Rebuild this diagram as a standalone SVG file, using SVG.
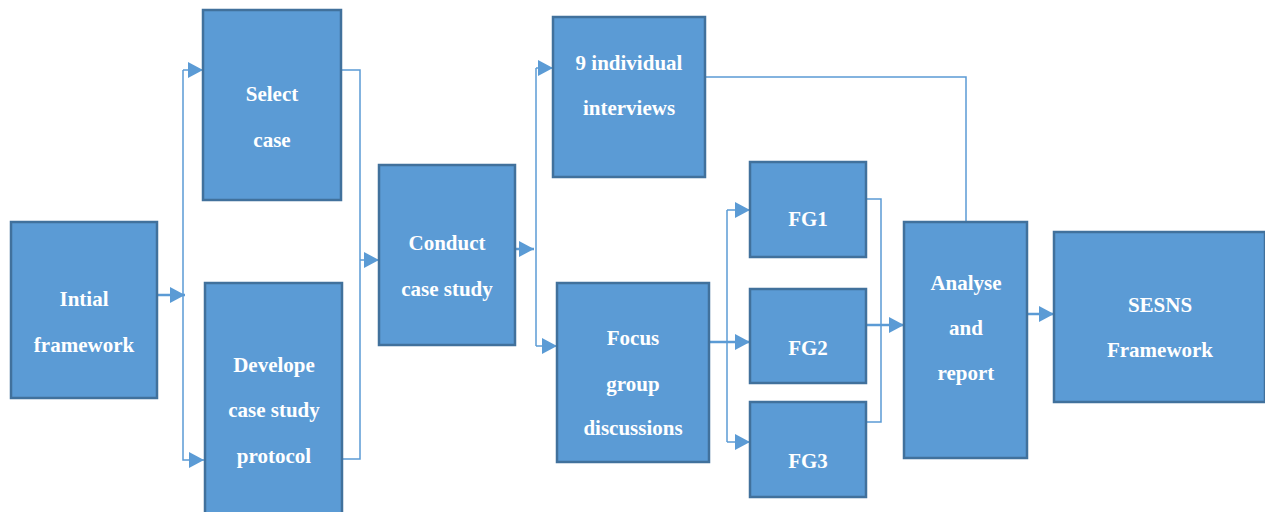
<svg xmlns="http://www.w3.org/2000/svg" width="1265" height="512" viewBox="0 0 1265 512">
<defs>
<style>
.box{fill:#5b9bd5;stroke:#41719c;stroke-width:2.5}
.t{font-family:"Liberation Serif","Times New Roman","DejaVu Serif",serif;font-weight:bold;font-size:21px;fill:#ffffff;text-anchor:middle}
.c{fill:none;stroke:#5b9bd5;stroke-width:1.5}
.s{fill:none;stroke:#5b9bd5;stroke-width:2.5}
</style>
<marker id="ah" markerUnits="userSpaceOnUse" markerWidth="16" markerHeight="16" refX="15" refY="8" orient="auto">
<path d="M0,0 L15,8 L0,16 z" fill="#5b9bd5"/>
</marker>
</defs>
<rect width="1265" height="512" fill="#ffffff"/>
<g id="connectors">
<path class="s" d="M157,295 H185" marker-end="url(#ah)"/>
<path class="c" d="M183,70 V460 H204" marker-end="url(#ah)"/>
<path class="c" d="M183,70 H203" marker-end="url(#ah)"/>
<path class="c" d="M341,70 H360 V459 H343"/>
<path class="c" d="M360,260 H379" marker-end="url(#ah)"/>
<path class="s" d="M515,249 H534" marker-end="url(#ah)"/>
<path class="c" d="M536,68 V346"/>
<path class="c" d="M536,68 H553" marker-end="url(#ah)"/>
<path class="c" d="M536,346 H557" marker-end="url(#ah)"/>
<path class="c" d="M705,77 H966 V222"/>
<path class="s" d="M709,342 H750" marker-end="url(#ah)"/>
<path class="c" d="M727,210 V442"/>
<path class="c" d="M727,210 H750" marker-end="url(#ah)"/>
<path class="c" d="M727,442 H750" marker-end="url(#ah)"/>
<path class="c" d="M867,199 H881 V422 H867"/>
<path class="s" d="M867,325 H904" marker-end="url(#ah)"/>
<path class="s" d="M1027,314 H1054" marker-end="url(#ah)"/>
</g>
<g id="intial">
<rect class="box" x="11" y="222" width="146" height="176"/>
<text class="t" x="84" y="306">Intial</text>
<text class="t" x="84" y="352">framework</text>
</g>
<g id="select">
<rect class="box" x="203" y="10" width="138" height="190"/>
<text class="t" x="272" y="101">Select</text>
<text class="t" x="272" y="147">case</text>
</g>
<g id="develope">
<rect class="box" x="205" y="283" width="137" height="240"/>
<text class="t" x="274" y="372">Develope</text>
<text class="t" x="274" y="417">case study</text>
<text class="t" x="274" y="463">protocol</text>
</g>
<g id="conduct">
<rect class="box" x="379" y="165" width="136" height="180"/>
<text class="t" x="447" y="250">Conduct</text>
<text class="t" x="447" y="296">case study</text>
</g>
<g id="interviews">
<rect class="box" x="553" y="17" width="152" height="160"/>
<text class="t" x="629" y="70">9 individual</text>
<text class="t" x="629" y="115">interviews</text>
</g>
<g id="focus">
<rect class="box" x="557" y="283" width="152" height="179"/>
<text class="t" x="633" y="345">Focus</text>
<text class="t" x="633" y="391">group</text>
<text class="t" x="633" y="435">discussions</text>
</g>
<g id="fg1">
<rect class="box" x="750" y="162" width="116" height="95"/>
<text class="t" x="808" y="226">FG1</text>
</g>
<g id="fg2">
<rect class="box" x="750" y="289" width="116" height="94"/>
<text class="t" x="808" y="355">FG2</text>
</g>
<g id="fg3">
<rect class="box" x="750" y="402" width="116" height="95"/>
<text class="t" x="808" y="468">FG3</text>
</g>
<g id="analyse">
<rect class="box" x="904" y="222" width="123" height="236"/>
<text class="t" x="966" y="290">Analyse</text>
<text class="t" x="966" y="335">and</text>
<text class="t" x="966" y="380">report</text>
</g>
<g id="sesns">
<rect class="box" x="1054" y="232" width="211" height="170"/>
<text class="t" x="1160" y="312">SESNS</text>
<text class="t" x="1160" y="357">Framework</text>
</g>
</svg>
